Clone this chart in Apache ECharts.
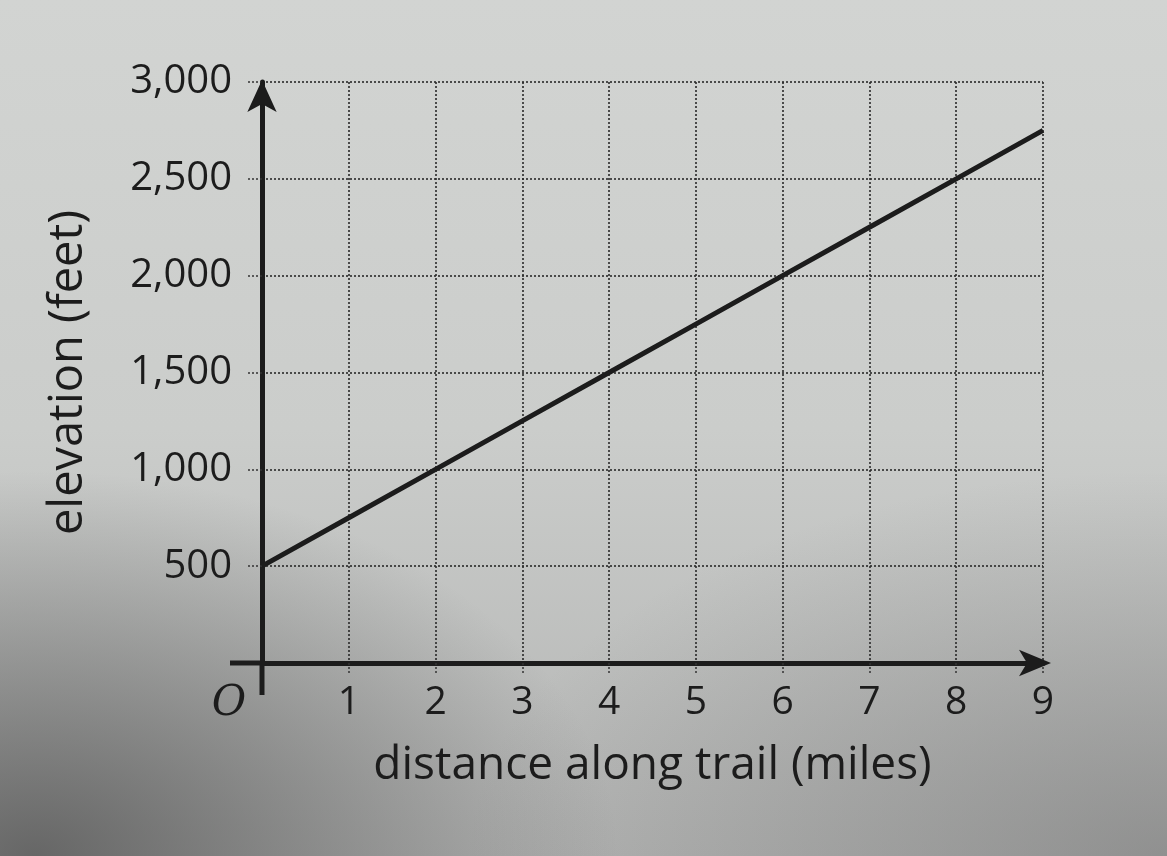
<!DOCTYPE html>
<html>
<head>
<meta charset="utf-8">
<script src="https://cdn.jsdelivr.net/npm/echarts@6/dist/echarts.min.js"></script>
<style>
html,body{margin:0;padding:0;width:1167px;height:856px;overflow:hidden;}
body{background:
 radial-gradient(ellipse 50% 45% at 3% 100%, rgba(70,70,70,0.7), rgba(70,70,70,0) 100%),
 radial-gradient(ellipse 60% 45% at 100% 100%, rgba(110,110,110,0.5), rgba(110,110,110,0) 100%),
 linear-gradient(to bottom, #d2d4d2 0%, #cbcdcb 50%, #b2b3b2 100%);}
#c{width:1167px;height:856px;}
</style>
</head>
<body>
<div id="c"></div>
<script>
// distance along trail (miles)
const distance = [0, 1, 2, 3, 4, 5, 6, 7, 8, 9];
// elevation (feet)
const elevation = [500, 750, 1000, 1250, 1500, 1750, 2000, 2250, 2500, 2750];
const xTicks = [0, 1, 2, 3, 4, 5, 6, 7, 8, 9];
const yTicks = [0, 500, 1000, 1500, 2000, 2500, 3000];

const ink = '#1c1c1c';
const font = 'Open Sans';
const chart = echarts.init(document.getElementById('c'), null, {renderer: 'canvas'});

chart.setOption({
  backgroundColor: 'transparent',
  animation: false,
  grid: {left: 262, right: 124, top: 82, bottom: 193, containLabel: false},
  xAxis: {
    type: 'value', min: xTicks[0], max: xTicks[xTicks.length - 1], interval: 1,
    name: 'distance along trail (miles)', nameLocation: 'middle', nameGap: 80,
    nameTextStyle: {fontFamily: font, fontSize: 46, color: ink},
    axisLine: {show: true, onZero: true, symbol: ['none', 'arrow'], symbolSize: [20, 32], symbolOffset: [0, 8],
      lineStyle: {color: ink, width: 5}},
    axisTick: {show: true, inside: false, length: 10, lineStyle: {color: '#333', type: [2, 2], width: 1.5}},
    splitLine: {show: true, lineStyle: {color: '#2a2a2a', type: [2, 2], width: 1.6}},
    axisLabel: {
      margin: 20, fontFamily: font, fontSize: 39, color: ink,
      formatter: v => v === 0 ? '{o|O}' : String(v),
      rich: {o: {fontFamily: 'DejaVu Serif', fontStyle: 'italic', fontSize: 42, color: ink, padding: [0, 66, 0, 0]}}
    }
  },
  yAxis: {
    type: 'value', min: yTicks[0], max: yTicks[yTicks.length - 1], interval: 500,
    name: 'elevation (feet)', nameLocation: 'middle', nameGap: 170, nameRotate: 90,
    nameTextStyle: {fontFamily: font, fontSize: 47, color: ink},
    axisLine: {show: true, onZero: true, symbol: ['none', 'arrow'], symbolSize: [22, 32], symbolOffset: [0, 2],
      lineStyle: {color: ink, width: 5}},
    axisTick: {show: true, inside: false, length: 16, lineStyle: {color: '#333', type: [2, 2], width: 1.5}},
    splitLine: {show: true, lineStyle: {color: '#2a2a2a', type: [2, 2], width: 1.6}},
    axisLabel: {
      margin: 30, fontFamily: font, fontSize: 40, color: ink,
      formatter: v => v === 0 ? '' : v.toLocaleString('en-US')
    }
  },
  series: [{
    type: 'line',
    data: distance.map((d, i) => [d, elevation[i]]),
    showSymbol: false,
    lineStyle: {color: ink, width: 5},
    z: 5
  }]
});

// short extensions of the axes past the origin
const o = chart.convertToPixel({gridIndex: 0}, [0, 0]);
chart.setOption({
  graphic: [
    {type: 'line', shape: {x1: o[0] - 32, y1: o[1], x2: o[0], y2: o[1]}, style: {stroke: ink, lineWidth: 5}, z: 10},
    {type: 'line', shape: {x1: o[0], y1: o[1], x2: o[0], y2: o[1] + 32}, style: {stroke: ink, lineWidth: 5}, z: 10}
  ]
});
</script>
</body>
</html>
